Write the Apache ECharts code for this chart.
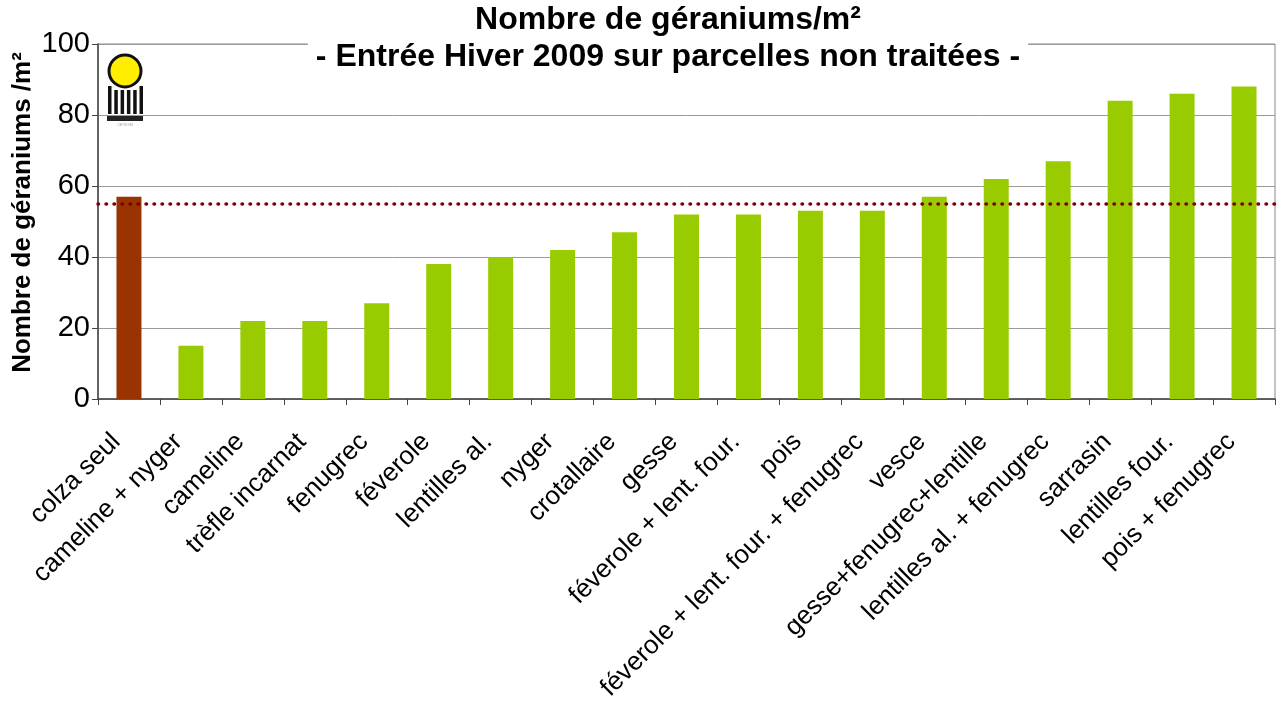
<!DOCTYPE html>
<html>
<head>
<meta charset="utf-8">
<script src="https://cdn.jsdelivr.net/npm/echarts@6/dist/echarts.min.js"></script>
<style>
  html, body { margin: 0; padding: 0; background: #fff; }
  #chart { width: 1277px; height: 701px; }
</style>
</head>
<body>
<div id="chart"></div>
<script>
// données
const cultures = [
  'colza seul', 'cameline + nyger', 'cameline', 'trèfle incarnat', 'fenugrec',
  'féverole', 'lentilles al.', 'nyger', 'crotallaire', 'gesse',
  'féverole + lent. four.', 'pois', 'féverole + lent. four. + fenugrec', 'vesce',
  'gesse+fenugrec+lentille', 'lentilles al. + fenugrec', 'sarrasin', 'lentilles four.', 'pois + fenugrec'
]
const geraniums = [57, 15, 22, 22, 27, 38, 40, 42, 47, 52, 52, 53, 53, 57, 62, 67, 84, 86, 88]
const temoin = 'colza seul'
const moyenne = 55
const yTicks = [0, 20, 40, 60, 80, 100]

const chart = echarts.init(document.getElementById('chart'))

const font = '"Liberation Sans", Arial, sans-serif'

// petit logo (soleil + barres) en haut à gauche
const logo = [
  { type: 'rect', shape: { x: 106, y: 53, width: 39, height: 77 }, style: { fill: '#fff' } },
  { type: 'circle', shape: { cx: 125, cy: 71, r: 16 }, style: { fill: '#ffee00', stroke: '#111', lineWidth: 3 } },
  { type: 'rect', shape: { x: 107, y: 115, width: 36, height: 6 }, style: { fill: '#222' } },
  { type: 'text', style: { x: 125, y: 125, text: 'CETIOM', fill: '#999', font: '4px ' + font, align: 'center', verticalAlign: 'middle' } }
]
for (let i = 0; i < 6; i++) {
  const tall = i === 0 || i === 5
  logo.push({ type: 'rect', shape: { x: 108 + i * 6.3, y: tall ? 86 : 90, width: 3.5, height: tall ? 28 : 24 }, style: { fill: '#111' } })
}

const option = {
  animation: false,
  backgroundColor: '#fff',
  title: {
    text: 'Nombre de géraniums/m²\n- Entrée Hiver 2009 sur parcelles non traitées -',
    left: 660,
    top: -2,
    textAlign: 'center',
    padding: [4, 8, 4, 8],
    backgroundColor: '#fff',
    textStyle: { fontFamily: font, fontWeight: 'bold', fontSize: 32, lineHeight: 37, color: '#000' }
  },
  grid: {
    left: 98, right: 2, top: 44, bottom: 302,
    outerBoundsMode: 'none', containLabel: false,
    show: true, borderColor: '#888', borderWidth: 1, z: 0
  },
  xAxis: {
    type: 'category',
    data: cultures,
    axisLine: { lineStyle: { color: '#444', width: 1.5 } },
    axisTick: { show: true, length: 6, lineStyle: { color: '#444' } },
    axisLabel: { rotate: 45, margin: 26, padding: [0, 18, 0, 0], interval: 0, fontFamily: font, fontSize: 26, color: '#000' }
  },
  yAxis: {
    type: 'value',
    min: yTicks[0],
    max: yTicks[yTicks.length - 1],
    interval: 20,
    name: 'Nombre de géraniums /m²',
    nameLocation: 'middle',
    nameRotate: 90,
    nameGap: 62,
    nameMoveOverlap: false,
    nameTextStyle: { fontFamily: font, fontWeight: 'bold', fontSize: 26, color: '#000', padding: [0, 0, 0, 18] },
    axisLine: { show: true, lineStyle: { color: '#444', width: 1.5 } },
    axisTick: { show: true, length: 6, lineStyle: { color: '#444' } },
    axisLabel: { margin: 8, fontFamily: font, fontSize: 29, color: '#000' },
    splitLine: { lineStyle: { color: '#999', width: 1 } }
  },
  series: [{
    type: 'bar',
    barWidth: 25,
    data: geraniums.map((v, i) => ({
      value: v,
      itemStyle: { color: cultures[i] === temoin ? '#993300' : '#99cc00' }
    })),
    markLine: {
      silent: true,
      symbol: 'none',
      label: { show: false },
      lineStyle: { color: '#800000', width: 3.5, type: [0.5, 7.5], cap: 'round' },
      data: [{ yAxis: moyenne }]
    }
  }],
  graphic: logo
}

chart.setOption(option)
</script>
</body>
</html>
